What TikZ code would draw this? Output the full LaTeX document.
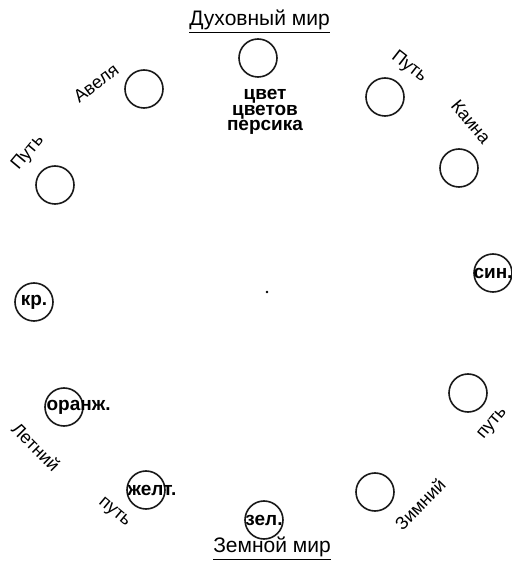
\documentclass[tikz,border=0pt]{standalone}
\usepackage{fontspec}
\setmainfont{Liberation Sans}
\usetikzlibrary{positioning}
\tikzset{
  orb/.style      = {circle, draw=black!90, line width=0.8pt, minimum size=19pt, inner sep=0pt},
  tint/.style     = {font=\fontsize{9.5}{9}\selectfont\bfseries, inner sep=0pt},
  pathword/.style = {font=\fontsize{9}{10}\selectfont, inner sep=0pt},
  worldhead/.style= {font=\fontsize{10.5}{12}\selectfont, inner sep=0pt},
}

\begin{document}
\begin{tikzpicture}[x=0.5pt, y=0.5pt]
\useasboundingbox (0,0) rectangle (511,563);

% =============== WORLDS ===============
\node (spirit) [worldhead] at (259.5,541) {\underline{Духовный мир}};
\node (earth)  [worldhead] at (272,14)    {\underline{Земной мир}};

% =============== CIRCLE OF COLOURS ===============
\node (peach)  [orb] at (258,505) {};
\node (abel)   [orb] at (144,474) {};
\node (pathL)  [orb] at (55,378)  {};
\node (red)    [orb] at (34,261)  {};
\node (orange) [orb] at (64,156)  {};
\node (yellow) [orb] at (146,73)  {};
\node (green)  [orb] at (264,43)  {};
\node (winter) [orb] at (375,71)  {};
\node (pathR)  [orb] at (468,170) {};
\node (blue)   [orb] at (493,290) {};
\node (cain)   [orb] at (459,395) {};
\node (pathT)  [orb] at (385,466) {};

% centre point
\fill (267,271) coordinate (mid) circle (1.4);

% colour names
\node (peachtxt) [tint, align=center, font=\fontsize{9.5}{7.8}\selectfont\bfseries]
  at (265,451) {цвет\\цветов\\персика};
\node (redtxt)    [tint] at (red)    {кр.};
\node (bluetxt)   [tint] at (blue)   {син.};
\node (greentxt)  [tint] at (green)  {зел.};
\node (orangetxt) [tint, anchor=west] at ([xshift=1pt]orange.west) {оранж.};
\node (yellowtxt) [tint, anchor=west] at ([xshift=0.5pt]yellow.west) {желт.};

% =============== PATH WORDS ===============
\node (w1) [pathword, rotate=37]  at (96,480)  {Авеля};
\node (w2) [pathword, rotate=50]  at (28,410)  {Путь};
\node (w3) [pathword, rotate=-38] at (409,496) {Путь};
\node (w4) [pathword, rotate=-50] at (471,441) {Каина};
\node (w5) [pathword, rotate=-45] at (36,116)  {Летний};
\node (w6) [pathword, rotate=-40] at (114,50)  {путь};
\node (w7) [pathword, rotate=46]  at (420,59)  {Зимний};
\node (w8) [pathword, rotate=50]  at (493,139) {путь};

\end{tikzpicture}
\end{document}
